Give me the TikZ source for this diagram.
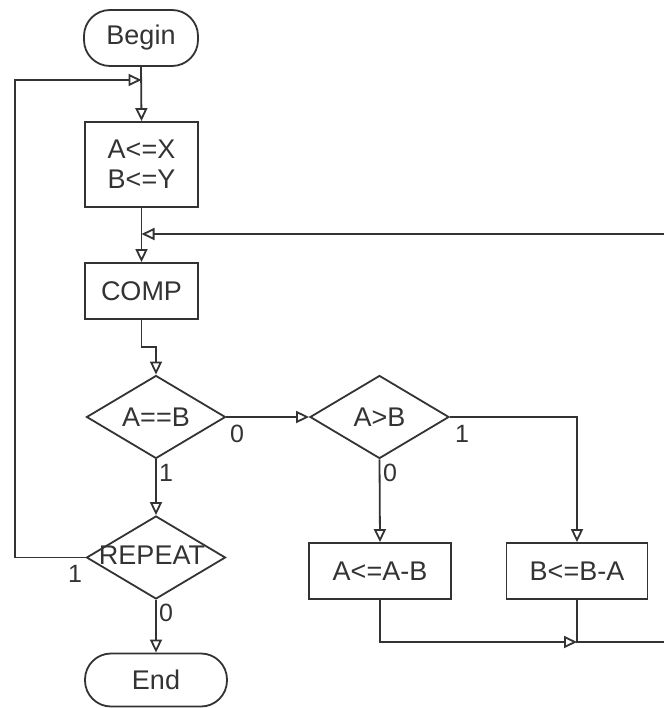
\documentclass[tikz,border=0pt]{standalone}
\usepackage{fontspec}
\setmainfont{Liberation Sans}
\usetikzlibrary{arrows.meta,shapes.geometric}
\definecolor{ink}{HTML}{333333}
\tikzset{
  base/.style={draw=ink, line width=1.8pt, text=ink, inner sep=0pt,
    font=\fontsize{27}{30}\selectfont},
  terminal/.style={base, rectangle, rounded corners=26pt},
  proc/.style={base, rectangle, align=center},
  decide/.style={base, diamond, minimum width=139pt, minimum height=83pt},
  every label/.style={text=ink, inner sep=0pt, font=\fontsize{27}{30}\selectfont},
  flow/.style={draw=ink, line width=1.8pt},
  arr/.style={flow, -{Triangle[open, length=13pt, width=12pt]}},
  tag/.style={text=ink, inner sep=0pt, font=\fontsize{25}{28}\selectfont}
}
\begin{document}
\begin{tikzpicture}[x=1pt, y=-1pt]
\useasboundingbox (0,0) rectangle (664,708);

% terminals and process boxes
\node[terminal, minimum width=114pt, minimum height=56pt] (begin) at (141,38) {Begin};
\node[proc, minimum width=113pt, minimum height=85pt] (init) at (141.5,164.5) {A<=X\\B<=Y};
\node[proc, minimum width=113pt, minimum height=56pt] (comp) at (141.5,291) {COMP};
\node[decide, label={center:A==B}] (eq) at (156,417) {};
\node[decide, label={center:A>B}] (gt) at (379.5,417) {};
\node[proc, minimum width=142pt, minimum height=56pt] (asub) at (380,571) {A<=A-B};
\node[proc, minimum width=141pt, minimum height=56pt] (bsub) at (577,571) {B<=B-A};
\node[decide] (rep) at (156,557.5) {};
\node[text=ink, inner sep=0pt, font=\fontsize{27}{30}\selectfont] (reptxt) at (152,555) {REPEAT};
\node[terminal, minimum width=142pt, minimum height=53pt] (end) at (156,680) {End};

% junction points
\coordinate (m1) at (141.5,80);
\coordinate (m2) at (141.5,234);
\coordinate (m3) at (577,642);
\coordinate (lft) at (15,557.5);
\coordinate (jog) at (141.5,347);
\coordinate (rtop) at (664,234);
\coordinate (rbot) at (664,642);

% connectors
\draw[arr] (begin.south) -- (init.north);
\draw[arr] (rep.west) -- (lft) |- (m1);
\draw[arr] (init.south) -- (comp.north);
\draw[arr] (rtop) -- (m2);
\draw[arr] (comp.south) -- (jog) -| (eq.north);
\draw[arr] (eq.east) -- (gt.west);
\draw[arr] (gt.east) -| (bsub.north);
\draw[arr] (gt.south) -- (asub.north);
\draw[arr] (eq.south) -- (rep.north);
\draw[arr] (rep.south) -- (end.north);
\draw[arr] (asub.south) |- (m3);
\draw[flow] (bsub.south) |- (rbot);

% branch labels
\node[tag] (t1) at (237,434) {0};
\node[tag] (t2) at (166,473) {1};
\node[tag] (t3) at (462,434) {1};
\node[tag] (t4) at (390,473) {0};
\node[tag] (t5) at (75,574) {1};
\node[tag] (t6) at (166,613) {0};
\end{tikzpicture}
\end{document}
